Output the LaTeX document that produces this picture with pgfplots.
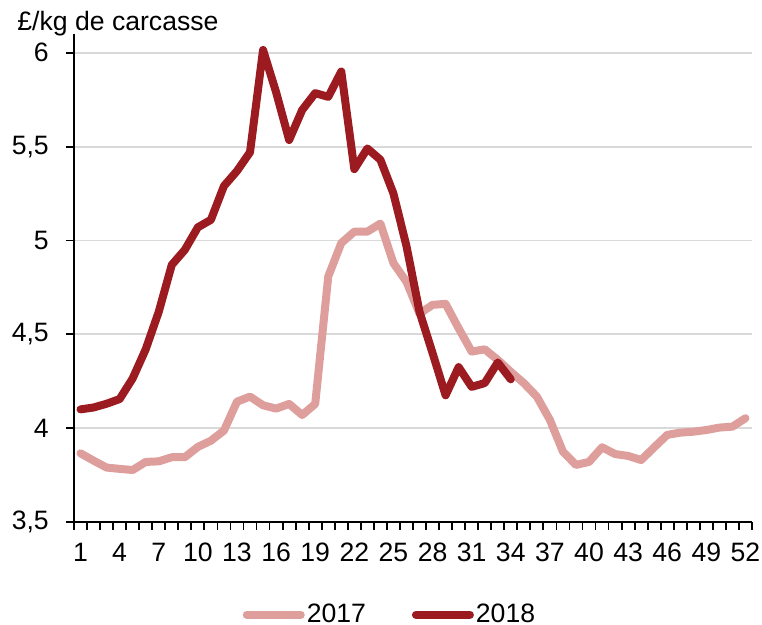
\documentclass[border=0pt]{standalone}
\usepackage{fontspec}
\setmainfont{Liberation Sans}
\usepackage{pgfplots}
\usepackage{pgfplotstable}
\pgfplotsset{compat=1.18}

\definecolor{dark18}{RGB}{155,27,32}
\definecolor{pink17}{RGB}{221,158,156}
\definecolor{gridgray}{RGB}{217,217,217}

% week, price (GBP/kg carcass)
\pgfplotstableread{
w p
1 3.866
2 3.827
3 3.790
4 3.783
5 3.777
6 3.820
7 3.823
8 3.845
9 3.845
10 3.900
11 3.933
12 3.987
13 4.141
14 4.168
15 4.122
16 4.104
17 4.129
18 4.070
19 4.129
20 4.808
21 4.986
22 5.047
23 5.047
24 5.090
25 4.879
26 4.780
27 4.610
28 4.657
29 4.662
30 4.532
31 4.408
32 4.420
33 4.364
34 4.300
35 4.240
36 4.168
37 4.044
38 3.875
39 3.804
40 3.820
41 3.898
42 3.862
43 3.852
44 3.830
45 3.898
46 3.964
47 3.976
48 3.981
49 3.990
50 4.003
51 4.008
52 4.053
}\datasev

\pgfplotstableread{
w p
1 4.100
2 4.110
3 4.130
4 4.155
5 4.265
6 4.420
7 4.620
8 4.870
9 4.950
10 5.070
11 5.110
12 5.290
13 5.370
14 5.470
15 6.015
16 5.790
17 5.535
18 5.695
19 5.785
20 5.765
21 5.900
22 5.380
23 5.490
24 5.430
25 5.250
26 4.970
27 4.620
28 4.400
29 4.175
30 4.325
31 4.220
32 4.240
33 4.350
34 4.260
}\dataeig

\begin{document}
\fontsize{13.3}{16}\selectfont
\begin{tikzpicture}
\path[use as bounding box] (-37pt,-51.5pt) rectangle (344pt,261pt);
\begin{axis}[
    at={(0,0)}, anchor=south west,
    scale only axis,
    width=339pt, height=244pt,
    xmin=0.5, xmax=52.5,
    ymin=3.5, ymax=6.1,
    axis lines=left,
    axis line style={-, line width=1pt},
    xtick={0.5,1.5,...,52.5},
    xticklabels={},
    extra x ticks={1,4,...,52},
    extra tick style={major tick length=0pt, xticklabel style={yshift=-6pt}},
    ytick={3.5,4,...,6},
    tick align=outside,
    major tick length=4pt,
    tick style={line width=0.9pt, black},
    ymajorgrids,
    grid style={gridgray, line width=0.9pt},
    /pgf/number format/assume math mode=true,
    /pgf/number format/use comma,
    ticklabel style={font=\fontsize{13.3}{16}\selectfont},
    yticklabel style={xshift=-4pt},
    legend columns=2,
    legend style={draw=none, at={(0.466,-0.19)}, anchor=center,
        font=\fontsize{13.3}{16}\selectfont,
        /tikz/every even column/.append style={column sep=22pt},
        nodes={inner sep=1pt}},
    legend image code/.code={\draw[#1] (0pt,0pt) -- (27pt,0pt);},
    every axis plot/.append style={line width=4pt, line join=round, line cap=round},
]
\addplot[pink17] table[x=w, y=p] {\datasev};
\addplot[dark18] table[x=w, y=p] {\dataeig};
\legend{2017, 2018}
\end{axis}
\node[anchor=base west, inner sep=0pt] at (-28.5pt,245.5pt) {£/kg de carcasse};
\end{tikzpicture}
\end{document}
